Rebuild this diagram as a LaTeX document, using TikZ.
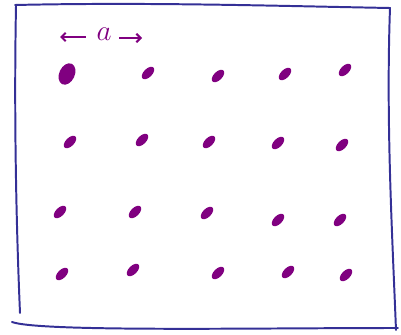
\documentclass[tikz,border=0pt]{standalone}
\usepackage{amsmath}
\usetikzlibrary{arrows.meta, positioning, shapes.geometric}
\definecolor{inkblue}{RGB}{52,48,150}
\definecolor{inkpurple}{RGB}{128,0,128}
\tikzset{
  frame/.style={draw=inkblue, line width=1.4pt, line cap=round, line join=round},
  dot/.style={ellipse, fill=inkpurple, inner sep=0pt, minimum width=6pt, minimum height=11pt, rotate=-45},
  bigdot/.style={ellipse, fill=inkpurple, inner sep=0pt, minimum width=11pt, minimum height=16pt, rotate=-25},
  spanarrow/.style={-{Straight Barb[length=3pt]}, draw=inkpurple, line width=1.4pt}
}
\begin{document}
\begin{tikzpicture}[x=0.025cm, y=-0.025cm]
\useasboundingbox (0,0) rectangle (401,335);
% hand-drawn frame
\draw[frame] (15,5) .. controls (150,2) and (280,6) .. (390,8)
  .. controls (386,120) and (392,230) .. (396,330);
\draw[frame] (16,6) .. controls (14,110) and (16,220) .. (20,313);
\draw[frame] (12,322) .. controls (40,332) and (250,328) .. (398,328);

% spacing label
\node[text=inkpurple, font=\huge] (lbl) at (104,34) {$a$};
\coordinate (aL) at (60,37);
\coordinate (aR) at (142,38);
\draw[spanarrow] (lbl.west) ++(-6,3) -- (aL);
\draw[spanarrow] (lbl.east) ++(3,4) -- (aR);

% lattice points
\node[bigdot] (p11) at (67,74) {};
\foreach \x/\y/\n in {148/73/12, 218/76/13, 285/74/14, 345/70/15,
                      70/142/21, 142/140/22, 209/142/23, 278/143/24, 342/145/25,
                      60/212/31, 135/212/32, 207/213/33, 278/220/34, 340/220/35,
                      62/274/41, 133/270/42, 218/273/43, 288/272/44, 346/275/45}
  \node[dot] (p\n) at (\x,\y) {};
\end{tikzpicture}
\end{document}
